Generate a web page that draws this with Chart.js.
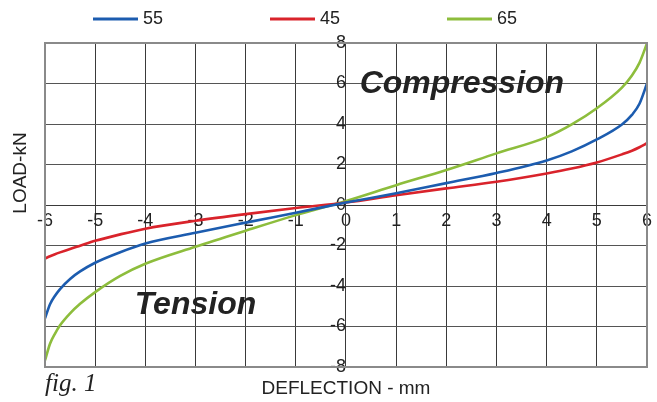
<!DOCTYPE html>
<html>
<head>
<meta charset="utf-8">
<script src="https://cdn.jsdelivr.net/npm/chart.js@4.4.1/dist/chart.umd.min.js"></script>
<style>
  html, body { margin: 0; padding: 0; background: #fff; }
  #wrap { width: 657px; height: 402px; }
</style>
</head>
<body>
<div id="wrap"><canvas id="load-chart"></canvas></div>
<script>
// Load / deflection curves
const deflection = [-6, -5.9, -5.8, -5.7, -5.5, -5.3, -5, -4.5, -4, -3, -2, -1, 0, 1, 2, 3, 4, 4.5, 5, 5.5, 5.7, 5.85, 6];
const load55 = [-5.6, -4.9, -4.48, -4.15, -3.65, -3.28, -2.85, -2.33, -1.9, -1.37, -0.87, -0.38, 0.12, 0.58, 1.08, 1.58, 2.2, 2.65, 3.24, 3.98, 4.45, 5.0, 6.0];
const load45 = [-2.64, -2.53, -2.43, -2.34, -2.17, -2.01, -1.77, -1.45, -1.17, -0.78, -0.45, -0.15, 0.12, 0.48, 0.82, 1.15, 1.56, 1.8, 2.1, 2.5, 2.68, 2.85, 3.05];
const load65 = [-7.67, -6.85, -6.35, -5.94, -5.35, -4.88, -4.3, -3.5, -2.9, -2.06, -1.27, -0.5, 0.2, 0.98, 1.73, 2.55, 3.35, 3.98, 4.78, 5.8, 6.4, 7.02, 7.98];
const seriesNames = ['55', '45', '65'];
const seriesColours = ['#1c5caf', '#d9232b', '#8dbd3c'];

const xTicks = [-6, -5, -4, -3, -2, -1, 0, 1, 2, 3, 4, 5, 6];
const yTicks = [-8, -6, -4, -2, 0, 2, 4, 6, 8];

const FONT = '"Liberation Sans", Arial, sans-serif';

// build {x,y} points for each series
const allLoads = [load55, load45, load65];
const datasets = allLoads.map((loads, i) => ({
  label: seriesNames[i],
  data: deflection.map((d, j) => ({ x: d, y: loads[j] })),
  borderColor: seriesColours[i],
  backgroundColor: seriesColours[i],
  borderWidth: 2.6,
  pointRadius: 0,
  cubicInterpolationMode: 'monotone',
  fill: false
}));

// Draws legend, axis titles and the Compression / Tension labels
const decorPlugin = {
  id: 'decor',
  afterDraw: function (chart) {
    const ctx = chart.ctx;
    const xs = chart.scales.x;
    const ys = chart.scales.y;
    const area = chart.chartArea;
    ctx.save();

    // legend - line samples with labels
    let lx = 93;
    chart.data.datasets.forEach((ds) => {
      ctx.strokeStyle = ds.borderColor;
      ctx.lineWidth = 3;
      ctx.beginPath();
      ctx.moveTo(lx, 19);
      ctx.lineTo(lx + 45, 19);
      ctx.stroke();
      ctx.fillStyle = '#222';
      ctx.font = '18px ' + FONT;
      ctx.textAlign = 'left';
      ctx.textBaseline = 'middle';
      ctx.fillText(ds.label, lx + 50, 19);
      lx += 177;
    });

    // big labels
    ctx.fillStyle = '#222';
    ctx.font = 'italic bold 32px ' + FONT;
    ctx.textAlign = 'center';
    ctx.textBaseline = 'middle';
    ctx.fillText('Compression', xs.getPixelForValue(2.31), ys.getPixelForValue(5.95));
    ctx.fillText('Tension', xs.getPixelForValue(-3.0), ys.getPixelForValue(-4.95));

    // axis titles
    ctx.font = '19px ' + FONT;
    ctx.textBaseline = 'alphabetic';
    ctx.fillText('DEFLECTION - mm', (area.left + area.right) / 2, 394);
    ctx.save();
    ctx.translate(26, 173);
    ctx.rotate(-Math.PI / 2);
    ctx.fillText('LOAD-kN', 0, 0);
    ctx.restore();

    // fig. 1
    ctx.font = 'italic 25px "Liberation Serif", "Times New Roman", serif';
    ctx.textAlign = 'left';
    ctx.fillText('fig. 1', 45, 391);

    // outer frame
    ctx.strokeStyle = '#8a8a8a';
    ctx.lineWidth = 2;
    ctx.strokeRect(area.left, area.top, area.right - area.left, area.bottom - area.top);
    ctx.restore();
  }
};

var ctx = document.getElementById('load-chart').getContext('2d');
var loadChart = new Chart(ctx, {
  type: 'line',
  data: { datasets: datasets },
  plugins: [decorPlugin],
  options: {
    responsive: true,
    maintainAspectRatio: false,
    animation: false,
    layout: {
      padding: { left: 45, right: 10, top: 43, bottom: 35 }
    },
    scales: {
      x: {
        type: 'linear',
        position: { y: 0 },
        min: -6,
        max: 6,
        afterBuildTicks: function (scale) {
          scale.ticks = xTicks.map((v) => ({ value: v }));
        },
        grid: { color: '#3a3a3a', lineWidth: 1, drawTicks: false },
        border: { display: true, color: '#3a3a3a', width: 1 },
        ticks: {
          autoSkip: false,
          maxRotation: 0,
          padding: 5,
          color: '#222',
          font: { family: FONT, size: 18 }
        }
      },
      y: {
        type: 'linear',
        position: { x: 0 },
        min: -8,
        max: 8,
        afterBuildTicks: function (scale) {
          scale.ticks = yTicks.map((v) => ({ value: v }));
        },
        grid: { color: '#555', lineWidth: 1, drawTicks: false },
        border: { display: true, color: '#3a3a3a', width: 1 },
        ticks: {
          autoSkip: false,
          padding: 9,
          color: '#222',
          font: { family: FONT, size: 18 }
        }
      }
    },
    plugins: {
      legend: { display: false },
      tooltip: { enabled: false }
    }
  }
});
</script>
</body>
</html>
